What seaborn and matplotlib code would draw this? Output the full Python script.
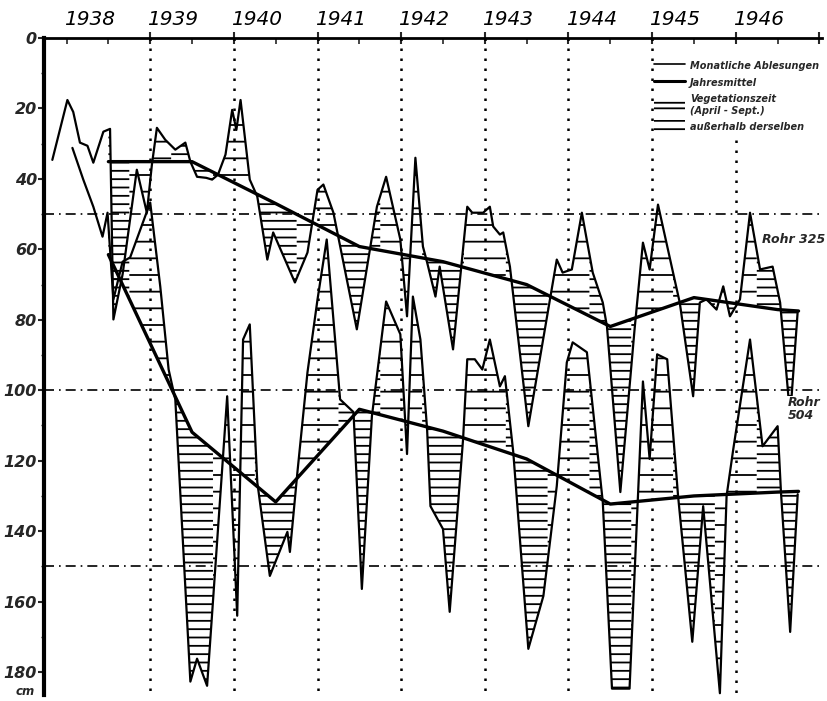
import numpy as np
import pandas as pd
import matplotlib
matplotlib.use("Agg")
import matplotlib.pyplot as plt
from matplotlib.lines import Line2D
from matplotlib.patches import Patch
import seaborn as sns

# ---------------- data ----------------
# Rohr 325 - monthly readings: decimal year, depth below surface [cm]
r325_year = [1937.83, 1938.01, 1938.08, 1938.16, 1938.25, 1938.32, 1938.44, 1938.52, 1938.56,
             1938.67, 1938.84, 1938.96, 1939.02, 1939.08, 1939.18, 1939.30, 1939.42, 1939.48,
             1939.56, 1939.67, 1939.74, 1939.81, 1939.90, 1939.98, 1940.03, 1940.08, 1940.19,
             1940.28, 1940.40, 1940.47, 1940.73, 1940.88, 1941.00, 1941.07, 1941.19, 1941.47,
             1941.71, 1941.82, 1941.99, 1942.07, 1942.17, 1942.26, 1942.31, 1942.41, 1942.46,
             1942.62, 1942.79, 1942.85, 1942.98, 1943.06, 1943.10, 1943.18, 1943.22, 1943.30,
             1943.52, 1943.86, 1943.93, 1944.04, 1944.16, 1944.29, 1944.41, 1944.46, 1944.62,
             1944.79, 1944.89, 1944.97, 1945.07, 1945.25, 1945.33, 1945.49, 1945.57, 1945.65,
             1945.77, 1945.85, 1945.93, 1946.05, 1946.17, 1946.29, 1946.44, 1946.53, 1946.65,
             1946.74]
r325_depth = [34.6, 17.6, 21.0, 29.7, 30.6, 35.4, 26.6, 25.8, 79.9,
              67.1, 37.4, 49.6, 36.0, 25.5, 28.9, 31.7, 29.7, 35.1,
              39.4, 39.7, 40.2, 38.8, 33.1, 20.4, 26.1, 17.6, 40.2,
              45.0, 62.9, 55.2, 69.4, 60.9, 43.1, 41.6, 49.6, 82.7,
              47.9, 39.4, 57.2, 79.0, 34.0, 59.2, 63.7, 73.4, 64.9,
              88.4, 47.9, 49.6, 49.6, 47.9, 53.5, 55.8, 55.2, 64.9,
              110.2, 62.9, 66.6, 65.7, 49.6, 66.6, 75.1, 81.9, 128.9,
              82.7, 58.1, 65.7, 47.3, 66.6, 75.1, 101.7, 75.1, 74.2,
              77.1, 70.5, 79.0, 74.2, 49.6, 65.7, 64.9, 75.1, 107.4,
              77.6]

# Rohr 504 - monthly readings
r504_year = [1938.07, 1938.20, 1938.32, 1938.43, 1938.49, 1938.56, 1938.67, 1938.76, 1939.00,
             1939.12, 1939.22, 1939.30, 1939.48, 1939.56, 1939.68, 1939.86, 1939.92, 1940.04,
             1940.11, 1940.19, 1940.28, 1940.43, 1940.64, 1940.67, 1940.76, 1940.88, 1941.00,
             1941.11, 1941.27, 1941.43, 1941.53, 1941.65, 1941.82, 1941.99, 1942.07, 1942.14,
             1942.23, 1942.31, 1942.35, 1942.50, 1942.58, 1942.74, 1942.79, 1942.88, 1942.97,
             1943.06, 1943.18, 1943.24, 1943.34, 1943.52, 1943.70, 1943.86, 1943.98, 1944.05,
             1944.22, 1944.41, 1944.52, 1944.73, 1944.85, 1944.89, 1944.97, 1945.06, 1945.18,
             1945.31, 1945.48, 1945.61, 1945.81, 1945.89, 1945.97, 1946.17, 1946.32, 1946.50,
             1946.54, 1946.65, 1946.74]
r504_depth = [31.2, 40.2, 47.9, 56.4, 49.6, 74.2, 63.5, 62.3, 46.7,
              70.5, 94.1, 102.6, 182.7, 176.2, 183.9, 122.4, 101.7, 164.0,
              85.6, 81.3, 126.1, 152.7, 140.2, 145.9, 123.2, 94.9, 74.2,
              57.2, 102.6, 106.2, 156.4, 107.4, 74.8, 84.1, 118.1, 73.4,
              85.6, 111.1, 132.9, 139.4, 162.9, 113.9, 91.2, 91.2, 94.1,
              85.6, 98.9, 96.0, 117.6, 173.4, 158.4, 127.2, 92.1, 86.4,
              89.2, 131.7, 184.7, 184.7, 119.5, 97.5, 119.5, 89.8, 91.2,
              130.0, 171.4, 132.9, 186.0, 130.0, 116.7, 85.6, 115.9, 110.2,
              128.9, 168.6, 129.5]

# Annual means (Jahresmittel), plotted at mid-year
mean_year = [1938.5, 1939.5, 1940.5, 1941.5, 1942.5, 1943.5, 1944.5, 1945.5, 1946.5, 1946.75]
mean325 = [35.1, 35.1, 47.0, 59.2, 63.5, 70.0, 81.9, 73.7, 77.1, 77.5]
mean504 = [61.5, 111.9, 131.7, 105.4, 111.6, 119.5, 132.3, 130.0, 128.9, 128.7]

year_labels = ["1938", "1939", "1940", "1941", "1942", "1943", "1944", "1945", "1946"]
year_starts = [1938, 1939, 1940, 1941, 1942, 1943, 1944, 1945, 1946]
depth_ticks = [0, 20, 40, 60, 80, 100, 120, 140, 160, 180]
ref_depths = [50, 100, 150]

legend_labels = ["Monatliche Ablesungen", "Jahresmittel",
                 "Vegetationszeit\n(April - Sept.)", "außerhalb derselben"]

# ---------------- styling ----------------
sns.set_style("white")
plt.rcParams["font.family"] = ["DejaVu Sans"]
plt.rcParams["hatch.linewidth"] = 1.3
plt.rcParams["hatch.color"] = "black"

fig = plt.figure(figsize=(8.28, 7.01), dpi=100)
ax = fig.add_axes([0.0531, 0.0086, 0.9396, 0.9372])

XMIN, XMAX = 1937.73, 1947.03
YMAX = 186.5

df325 = pd.DataFrame({"year": r325_year, "depth": r325_depth})
df504 = pd.DataFrame({"year": r504_year, "depth": r504_depth})
dfm = pd.DataFrame({"year": mean_year, "m325": mean325, "m504": mean504})


def hatch_fill(xs, ys, mx, my):
    lo = max(xs[0], mx[0])
    hi = min(xs[-1], mx[-1])
    t = np.linspace(lo, hi, 6000)
    a = np.interp(t, xs, ys)
    b = np.interp(t, mx, my)
    frac = t % 1.0
    veg = (frac >= 0.25) & (frac < 0.75)
    ax.fill_between(t, a, b, where=veg, interpolate=True, facecolor="none",
                    edgecolor="black", hatch="--", linewidth=0, zorder=1)
    ax.fill_between(t, a, b, where=~veg, interpolate=True, facecolor="none",
                    edgecolor="black", hatch="-", linewidth=0, zorder=1)


hatch_fill(r325_year, r325_depth, mean_year, mean325)
hatch_fill(r504_year, r504_depth, mean_year, mean504)

# monthly readings
sns.lineplot(data=df325, x="year", y="depth", ax=ax, color="black", lw=1.6,
             estimator=None, sort=False, zorder=3)
sns.lineplot(data=df504, x="year", y="depth", ax=ax, color="black", lw=1.6,
             estimator=None, sort=False, zorder=3)
# annual means
sns.lineplot(data=dfm, x="year", y="m325", ax=ax, color="black", lw=2.4,
             estimator=None, sort=False, zorder=4)
sns.lineplot(data=dfm, x="year", y="m504", ax=ax, color="black", lw=2.4,
             estimator=None, sort=False, zorder=4)

# reference lines
for yr in year_starts[1:]:
    top = 29 if yr == 1946 else 0
    ax.plot([yr, yr], [top, YMAX], color="black", lw=1.8, ls=(0, (1, 3)), zorder=2)
for d in ref_depths:
    ax.axhline(d, color="black", lw=1.2, ls=(0, (6, 3, 1, 3)), zorder=2)

ax.set_xlim(XMIN, XMAX)
ax.set_ylim(YMAX, 0)

# spines
for s in ["right", "bottom"]:
    ax.spines[s].set_visible(False)
ax.spines["left"].set_linewidth(3)
ax.spines["top"].set_linewidth(2)
ax.spines["left"].set_color("black")
ax.spines["top"].set_color("black")

# x axis on top
ax.xaxis.tick_top()
ax.set_xticks(year_starts[1:] + [1947])
ax.set_xticks(np.arange(1938.0, 1947.0, 0.5), minor=True)
ax.tick_params(axis="x", which="major", direction="inout", length=8, width=1.5,
               labeltop=False, top=True, bottom=False)
ax.tick_params(axis="x", which="minor", direction="in", length=4, width=1.2, top=True, bottom=False)
for lab, ys in zip(year_labels, year_starts):
    ax.text(ys + 0.27, -2.5, lab, ha="center", va="bottom", fontsize=14.5,
            style="italic", color="black", clip_on=False)

ax.set_yticks(depth_ticks)
ax.set_yticks(np.arange(10, 180, 10), minor=True)
ax.set_yticklabels([str(v) for v in depth_ticks], fontsize=11.5, style="italic",
                   fontweight="bold")
ax.tick_params(axis="y", which="major", direction="out", length=4, width=1.5, pad=1, left=True)
ax.tick_params(axis="y", which="minor", direction="out", length=2.5, width=1, left=True)
ax.text(-0.012, 185.6, "cm", transform=ax.get_yaxis_transform(), ha="right", va="center",
        fontsize=8.5, style="italic", fontweight="bold")

ax.set_xlabel("")
ax.set_ylabel("")

# labels of the tubes
ax.text(1946.31, 57.2, "Rohr 325", fontsize=9, style="italic", fontweight="bold",
        ha="left", va="center", zorder=6)
ax.text(1946.62, 105.4, "Rohr\n504", fontsize=9, style="italic", fontweight="bold",
        ha="left", va="center", linespacing=1.0, zorder=6,
        bbox=dict(facecolor="white", edgecolor="none", pad=0.5))

# legend
handles = [Line2D([0], [0], color="black", lw=1.2),
           Line2D([0], [0], color="black", lw=2.2),
           Patch(facecolor="white", edgecolor="black", hatch="---", linewidth=0),
           Patch(facecolor="white", edgecolor="black", hatch="--", linewidth=0)]
leg = ax.legend(handles, legend_labels, loc="upper right", bbox_to_anchor=(1.005, 0.978),
                frameon=False, prop={"size": 7, "style": "italic", "weight": "bold"},
                handlelength=3.2, handleheight=1.6, labelspacing=0.5, handletextpad=0.5,
                borderpad=0.2)
leg.set_zorder(7)

fig.savefig("out.png", dpi=100, facecolor="white")
